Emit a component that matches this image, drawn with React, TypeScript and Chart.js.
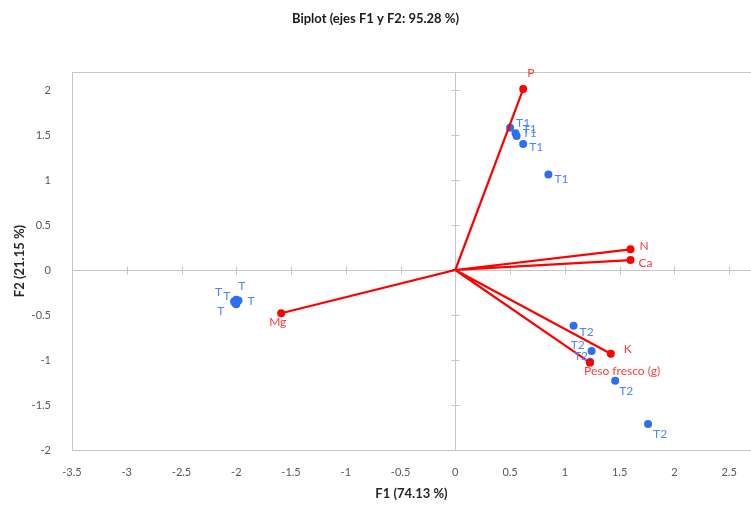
import React, { useEffect, useRef } from 'react';
import { Chart, registerables } from 'chart.js';

Chart.register(...registerables);

// Observations (blue)
const obsLabels = ['T1', 'T1', 'T1', 'T1', 'T1', 'T2', 'T2', 'T2', 'T2', 'T2', 'T', 'T', 'T', 'T', 'T'];
const obsX = [0.50, 0.56, 0.55, 0.62, 0.85, 1.08, 1.245, 1.23, 1.46, 1.76, -2.0, -2.02, -2.01, -1.98, -2.0];
const obsY = [1.58, 1.49, 1.52, 1.40, 1.06, -0.62, -0.90, -1.02, -1.23, -1.71, -0.33, -0.35, -0.37, -0.34, -0.38];

// Variables (red vectors)
const varNames = ['P', 'N', 'Ca', 'K', 'Peso fresco (g)', 'Mg'];
const varX = [0.62, 1.60, 1.60, 1.42, 1.23, -1.59];
const varY = [2.01, 0.23, 0.11, -0.93, -1.03, -0.48];

// Axis ticks
const xTicks = [-3.5, -3, -2.5, -2, -1.5, -1, -0.5, 0, 0.5, 1, 1.5, 2, 2.5];
const yTicks = [-2, -1.5, -1, -0.5, 0, 0.5, 1, 1.5, 2];

const titleText = 'Biplot (ejes F1 y F2: 95.28 %)';
const xTitle = 'F1 (74.13 %)';
const yTitle = 'F2 (21.15 %)';

// label placement (style): dx = left edge offset, dy = vertical center offset (px)
const obsLabelDx = [6, 6, 7, 6, 6, 6, -21, -16, 4, 5, 2, -19, -12, 9, -19];
const obsLabelDy = [-5, -7, 0, 3, 5, 6, -6, -6, 10, 10, -14, -9, -7, 1, 7];
const varLabelDx = [4, 9, 8, 13, -6, -12];
const varLabelDy = [-16, -3, 3, -5, 8, 9];

const FONT = 'Lato, "Open Sans", sans-serif';
const AXIS_GRAY = '#c6c6c6';
const BLUE = '#2e6ff2';
const BLUE_TXT = '#4f86f7';
const RED = '#ff0000';
const RED_TXT = '#ff3c3c';

export default function App() {
  const ref = useRef<HTMLCanvasElement | null>(null);

  useEffect(() => {
    document.body.style.margin = '0';
    const canvas = ref.current;
    if (!canvas) return;

    const vecData: { x: number; y: number }[] = [];
    varX.forEach((x, i) => {
      vecData.push({ x: 0, y: 0 });
      vecData.push({ x, y: varY[i] });
    });
    const obsData = obsX.map((x, i) => ({ x, y: obsY[i] }));

    const decor = {
      id: 'decor',
      beforeDatasetsDraw(chart: any) {
        const { ctx, chartArea } = chart;
        const xs = chart.scales.x;
        const ys = chart.scales.y;
        const x0 = Math.round(xs.getPixelForValue(0)) + 0.5;
        const y0 = Math.round(ys.getPixelForValue(0)) + 0.5;
        ctx.save();
        ctx.strokeStyle = AXIS_GRAY;
        ctx.lineWidth = 1;
        ctx.beginPath();
        // top border
        ctx.moveTo(chartArea.left, chartArea.top + 0.5);
        ctx.lineTo(chartArea.right, chartArea.top + 0.5);
        // zero lines
        ctx.moveTo(x0, chartArea.top);
        ctx.lineTo(x0, chartArea.bottom);
        ctx.moveTo(chartArea.left, y0);
        ctx.lineTo(chartArea.right, y0);
        // tick marks on zero lines
        xTicks.forEach((v) => {
          const px = Math.round(xs.getPixelForValue(v)) + 0.5;
          ctx.moveTo(px, y0 - 4);
          ctx.lineTo(px, y0 + 4);
        });
        yTicks.forEach((v) => {
          const py = Math.round(ys.getPixelForValue(v)) + 0.5;
          ctx.moveTo(x0 - 4, py);
          ctx.lineTo(x0 + 4, py);
        });
        ctx.stroke();
        ctx.restore();
      },
      afterDatasetsDraw(chart: any) {
        const { ctx } = chart;
        const xs = chart.scales.x;
        const ys = chart.scales.y;
        ctx.save();
        ctx.font = `12px ${FONT}`;
        ctx.textBaseline = 'middle';
        ctx.textAlign = 'left';
        ctx.fillStyle = BLUE_TXT;
        obsLabels.forEach((lbl, i) => {
          const px = xs.getPixelForValue(obsX[i]);
          const py = ys.getPixelForValue(obsY[i]);
          ctx.fillText(lbl, px + obsLabelDx[i], py + obsLabelDy[i]);
        });
        ctx.fillStyle = RED_TXT;
        varNames.forEach((lbl, i) => {
          const px = xs.getPixelForValue(varX[i]);
          const py = ys.getPixelForValue(varY[i]);
          ctx.fillText(lbl, px + varLabelDx[i], py + varLabelDy[i]);
        });
        ctx.restore();
      },
    };

    const chart = new Chart(canvas, {
      type: 'scatter',
      data: {
        datasets: [
          {
            label: 'Variables',
            data: vecData,
            showLine: true,
            borderColor: RED,
            borderWidth: 2.2,
            backgroundColor: RED,
            pointBackgroundColor: RED,
            pointBorderColor: RED,
            pointRadius: (c: any) => (c.dataIndex % 2 === 1 ? 4 : 0),
            pointBorderWidth: 0,
            order: 0,
          } as any,
          {
            label: 'Observaciones',
            data: obsData,
            showLine: false,
            backgroundColor: BLUE,
            borderColor: BLUE,
            pointRadius: 4,
            pointBorderWidth: 0,
            order: 1,
          },
        ],
      },
      options: {
        animation: false,
        responsive: false,
        layout: { padding: 0, autoPadding: false },
        plugins: {
          legend: { display: false },
          tooltip: { enabled: false },
          title: {
            display: true,
            text: titleText,
            color: '#1a1a1a',
            font: { family: FONT, size: 13, weight: 'bold' },
            padding: { top: 11, bottom: 45.4 },
          },
        },
        scales: {
          x: {
            type: 'linear',
            min: -3.5,
            max: 2.7,
            afterBuildTicks: (s: any) => {
              s.ticks = xTicks.map((v) => ({ value: v }));
            },
            afterFit: (s: any) => {
              s.height = 55;
              s.paddingRight = 0;
              s.paddingLeft = 0;
            },
            grid: { display: false },
            border: { display: true, color: AXIS_GRAY, width: 1 },
            ticks: {
              padding: 8,
              color: '#595959',
              font: { family: FONT, size: 11 },
              maxRotation: 0,
              autoSkip: false,
              callback: (v: any) => String(v),
            },
            title: {
              display: true,
              text: xTitle,
              color: '#262626',
              font: { family: FONT, size: 13, weight: 'bold' },
              padding: { top: 0, bottom: 3 },
            },
          },
          y: {
            type: 'linear',
            min: -2,
            max: 2.2,
            afterBuildTicks: (s: any) => {
              s.ticks = yTicks.map((v) => ({ value: v }));
            },
            afterFit: (s: any) => {
              s.width = 72;
            },
            grid: { display: false },
            border: { display: true, color: AXIS_GRAY, width: 1 },
            ticks: {
              padding: 13,
              color: '#595959',
              font: { family: FONT, size: 11 },
              autoSkip: false,
              callback: (v: any) => String(v),
            },
            title: {
              display: true,
              text: yTitle,
              color: '#262626',
              font: { family: FONT, size: 13, weight: 'bold' },
              padding: { top: 12, bottom: 0 },
            },
          },
        },
      } as any,
      plugins: [decor],
    });

    return () => chart.destroy();
  }, []);

  return (
    <div style={{ width: 751, height: 505 }}>
      <canvas ref={ref} width={751} height={505} style={{ display: 'block' }} />
    </div>
  );
}
